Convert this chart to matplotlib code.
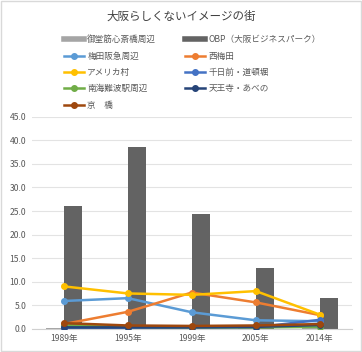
import numpy as np
import matplotlib.pyplot as plt
from matplotlib.lines import Line2D
from matplotlib.patches import Rectangle

plt.rcParams['font.family'] = ['Noto Sans CJK JP', 'DejaVu Sans']

years = ['1989年', '1995年', '1999年', '2005年', '2014年']

# bar series
midosuji = [0.2, 0.9, 0.3, 0.5, 0.3]
obp = [26.0, 38.7, 24.3, 13.0, 6.5]

# line series
umeda_hankyu = [5.9, 6.5, 3.5, 1.8, 1.6]
nishi_umeda = [1.0, 3.6, 7.7, 5.6, 2.9]
amerikamura = [9.0, 7.5, 7.2, 8.0, 3.0]
sennichimae = [0.1, 0.2, 0.2, 0.3, 1.9]
nankai_namba = [0.7, 0.4, 0.3, 0.3, 0.4]
tennoji = [0.3, 0.3, 0.3, 0.4, 0.8]
kyobashi = [1.2, 0.7, 0.6, 0.7, 1.0]

bar_names = ['御堂筋心斎橋周辺', 'OBP（大阪ビジネスパーク）']
bar_colors = ['#A5A5A5', '#636363']
line_names = ['梅田阪急周辺', '西梅田', 'アメリカ村', '千日前・道頓堀',
              '南海難波駅周辺', '天王寺・あべの', '京　橋']
line_vals = [umeda_hankyu, nishi_umeda, amerikamura, sennichimae,
             nankai_namba, tennoji, kyobashi]
line_colors = ['#5B9BD5', '#ED7D31', '#FFC000', '#4472C4',
               '#70AD47', '#264478', '#9E480E']

fig = plt.figure(figsize=(3.62, 3.52), dpi=100)
ax = fig.add_axes([0.088, 0.066, 0.884, 0.602])

ind = np.arange(len(years))
width = 0.28
ax.bar(ind - width / 2, midosuji, width, color=bar_colors[0], zorder=2)
ax.bar(ind + width / 2, obp, width, color=bar_colors[1], zorder=2)

for vals, c in zip(line_vals, line_colors):
    ax.plot(ind, vals, color=c, lw=1.8, marker='o', ms=4, zorder=3)

ax.set_xlim(-0.5, 4.5)
ax.set_ylim(0, 45)
ax.set_yticks(np.arange(0, 46, 5))
ax.set_yticklabels(['%.1f' % v for v in np.arange(0, 46, 5)])
ax.set_xticks(ind)
ax.set_xticklabels(years)
ax.tick_params(length=0, labelsize=6.2, colors='#595959', pad=4)
ax.grid(axis='y', color='#E3E3E3', lw=0.8, zorder=0)
for s in ['top', 'right', 'left']:
    ax.spines[s].set_visible(False)
ax.spines['bottom'].set_color('#D0D0D0')

fig.text(0.5, 0.955, '大阪らしくないイメージの街', ha='center', va='center',
         fontsize=8.3, color='#404040')

# legend in row-major order, two columns
handles = [Line2D([], [], color=c, lw=4) for c in bar_colors]
handles += [Line2D([], [], color=c, lw=1.8, marker='o', ms=4) for c in line_colors]
labels = bar_names + line_names
order = [0, 2, 4, 6, 8, 1, 3, 5, 7]
leg = fig.legend([handles[i] for i in order], [labels[i] for i in order],
                 ncol=2, loc='upper left', bbox_to_anchor=(0.164, 0.912),
                 frameon=False, fontsize=6.2, handlelength=2.4, handletextpad=0.35,
                 labelspacing=0.85, columnspacing=3.3, borderpad=0)
for t in leg.get_texts():
    t.set_color('#595959')

fig.patches.append(Rectangle((0.002, 0.002), 0.996, 0.996, transform=fig.transFigure,
                             fill=False, edgecolor='#D9D9D9', lw=1))

fig.savefig('out.png', dpi=100)
